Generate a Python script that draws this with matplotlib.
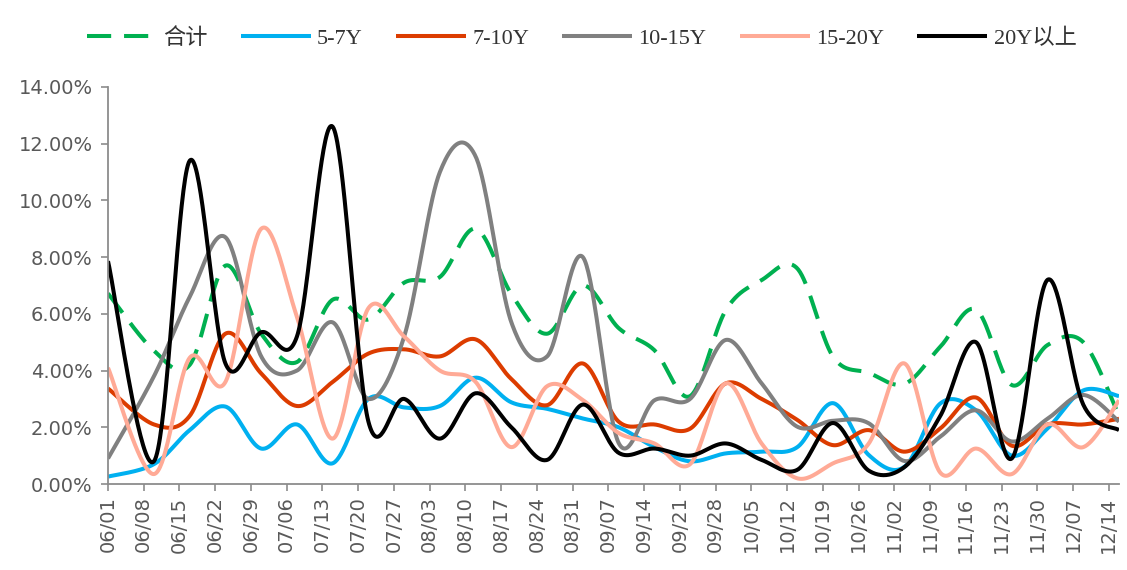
import numpy as np
import pandas as pd
import matplotlib
matplotlib.use('Agg')
import matplotlib.pyplot as plt

# 日期：首期06/01，其余为每周一
obs_dates = ['2019-06-01'] + [d.strftime('%Y-%m-%d') for d in pd.date_range('2019-06-10', '2019-12-16', freq='7D')]
tick_dates = pd.date_range('2019-06-01', '2019-12-14', freq='7D')
tick_labels = [d.strftime('%m/%d') for d in tick_dates]

# 各期限占比（%）
total = [6.72, 4.7, 4.2, 7.7, 5.3, 4.3, 6.5, 5.8, 7.1, 7.3, 9.0, 6.7, 5.3, 7.0, 5.5,
         4.72, 3.1, 6.13, 7.19, 7.6, 4.49, 3.92, 3.53, 4.84, 6.15, 3.49, 4.9, 5.0, 2.4]
y5_7 = [0.26, 0.7, 1.9, 2.73, 1.25, 2.1, 0.73, 3.0, 2.7, 2.75, 3.75, 2.88, 2.65, 2.31, 2.0,
        1.3, 0.8, 1.08, 1.14, 1.3, 2.85, 1.02, 0.61, 2.84, 2.6, 1.0, 1.96, 3.3, 3.1]
y7_10 = [3.37, 2.1, 2.4, 5.3, 3.9, 2.75, 3.6, 4.6, 4.75, 4.5, 5.1, 3.7, 2.78, 4.25, 2.2,
         2.1, 1.95, 3.55, 3.0, 2.26, 1.37, 1.9, 1.14, 1.96, 3.05, 1.35, 2.1, 2.1, 2.3]
y10_15 = [0.9, 3.8, 6.6, 8.7, 4.5, 4.0, 5.7, 3.0, 5.2, 11.0, 11.55, 5.7, 4.5, 8.0, 1.45,
          2.95, 3.0, 5.08, 3.55, 2.02, 2.23, 2.14, 0.81, 1.67, 2.6, 1.5, 2.3, 3.14, 2.2]
y15_20 = [4.1, 0.35, 4.45, 3.6, 9.0, 5.9, 1.6, 6.2, 5.2, 4.0, 3.6, 1.3, 3.45, 2.96, 1.8,
          1.43, 0.7, 3.55, 1.43, 0.2, 0.73, 1.43, 4.25, 0.4, 1.25, 0.35, 2.1, 1.3, 2.95]
y20p = [7.86, 0.8, 11.4, 4.25, 5.35, 5.2, 12.6, 2.2, 3.0, 1.6, 3.2, 2.0, 0.85, 2.8, 1.1,
        1.25, 1.0, 1.43, 0.85, 0.5, 2.15, 0.47, 0.6, 2.4, 5.0, 0.9, 7.2, 2.8, 1.9]


def smooth(xs, ys, n=40):
    # Excel风格的平滑曲线（Bezier，控制点取相邻点差的1/6）
    xs = np.asarray(xs, float)
    ys = np.asarray(ys, float)
    px = np.r_[xs[0], xs, xs[-1]]
    py = np.r_[ys[0], ys, ys[-1]]
    t = np.linspace(0, 1, n)
    outx, outy = [], []
    for i in range(len(xs) - 1):
        x0, y0 = xs[i], ys[i]
        x3, y3 = xs[i + 1], ys[i + 1]
        x1 = x0 + (px[i + 2] - px[i]) / 6
        y1 = y0 + (py[i + 2] - py[i]) / 6
        x2 = x3 - (px[i + 3] - px[i + 1]) / 6
        y2 = y3 - (py[i + 3] - py[i + 1]) / 6
        a, b, c, d = (1 - t) ** 3, 3 * (1 - t) ** 2 * t, 3 * (1 - t) * t ** 2, t ** 3
        outx.append(a * x0 + b * x1 + c * x2 + d * x3)
        outy.append(a * y0 + b * y1 + c * y2 + d * y3)
    return np.concatenate(outx), np.concatenate(outy)


start = pd.Timestamp(obs_dates[0])
xd = np.array([(pd.Timestamp(d) - start).days for d in obs_dates], float)
xt = np.array([(d - start).days for d in tick_dates], float)

series = [
    ('合计', total, '#00B050', (0, (6, 3.2))),
    ('5-7Y', y5_7, '#00B0F0', '-'),
    ('7-10Y', y7_10, '#DC3C00', '-'),
    ('10-15Y', y10_15, '#808080', '-'),
    ('15-20Y', y15_20, '#FFAA96', '-'),
    ('20Y以上', y20p, '#000000', '-'),
]

fig = plt.figure(figsize=(11.27, 5.70), dpi=100)
ax = fig.add_axes([108 / 1127, 1 - 484 / 570, (1119 - 108) / 1127, (484 - 87) / 570])

for name, vals, color, ls in series:
    sx, sy = smooth(xd, np.array(vals) / 100)
    ax.plot(sx, sy, color=color, lw=2.9, ls=ls, label=name,
            solid_capstyle='butt', dash_capstyle='butt')

ax.set_xlim(0, xd[-1])
ax.set_ylim(0, 0.14)
ax.set_yticks(np.arange(0, 0.1401, 0.02))
ax.set_yticklabels([f'{v * 100:.2f}%' for v in np.arange(0, 0.1401, 0.02)])
ax.set_xticks(xt)
ax.set_xticklabels(tick_labels, rotation=90)

for s in ['top', 'right']:
    ax.spines[s].set_visible(False)
for s in ['left', 'bottom']:
    ax.spines[s].set_color('#8c8c8c')
    ax.spines[s].set_linewidth(1.3)
ax.tick_params(axis='both', colors='#8c8c8c', labelcolor='#595959',
               labelsize=14, length=5, width=1.2)
ax.tick_params(axis='y', pad=6)
ax.tick_params(axis='x', pad=4)

leg = fig.legend(loc='center', bbox_to_anchor=(0.516, 0.933), ncol=6, frameon=False,
                 handlelength=3.15, handletextpad=0.28, columnspacing=1.5,
                 prop={'family': ['Liberation Serif', 'Noto Sans CJK SC'], 'size': 16})
for t in leg.get_texts():
    t.set_color('#333333')

fig.savefig('out.png', dpi=100)
